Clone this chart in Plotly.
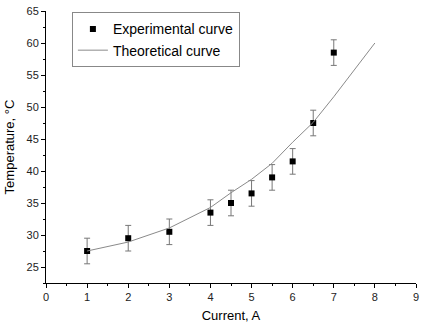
import plotly.graph_objects as go

current = [1, 2, 3, 4, 4.5, 5, 5.5, 6, 6.5, 7]
temperature = [27.5, 29.5, 30.5, 33.5, 35.0, 36.5, 39.0, 41.5, 47.5, 58.5]
temp_err = [2, 2, 2, 2, 2, 2, 2, 2, 2, 2]

theory_current = [1, 2, 3, 4, 4.5, 5, 5.5, 6, 6.5, 7, 8]
theory_temp = [27.5, 28.9, 31.1, 34.3, 36.6, 38.7, 41.2, 44.5, 47.6, 51.6, 60.0]

FONT = "Liberation Sans, Arial, sans-serif"

fig = go.Figure()
fig.add_trace(go.Scatter(
    x=current, y=temperature, mode="markers", name="Experimental curve",
    marker=dict(symbol="square", size=6, color="black"),
    error_y=dict(type="data", array=temp_err, visible=True, color="#777777",
                 thickness=1, width=3),
))
fig.add_trace(go.Scatter(
    x=theory_current, y=theory_temp, mode="lines", name="Theoretical curve",
    line=dict(color="#8a8a8a", width=1),
))

fig.update_layout(
    width=424, height=327,
    margin=dict(l=46, r=5, t=7, b=44),
    paper_bgcolor="white", plot_bgcolor="white",
    font=dict(family=FONT, size=11, color="#222222"),
    showlegend=True,
    legend=dict(x=0.07, y=0.995, xanchor="left", yanchor="top",
                bordercolor="#888888", borderwidth=1, bgcolor="white",
                font=dict(size=14, family=FONT, color="black"),
                tracegroupgap=0, itemwidth=30),
    xaxis=dict(range=[0, 9], dtick=1, showgrid=False, zeroline=False,
               showline=True, linecolor="black", linewidth=1,
               ticks="outside", ticklen=4, tickcolor="black",
               minor=dict(dtick=0.5, ticks="outside", ticklen=2, tickcolor="black"),
               title=dict(text="Current, A", font=dict(size=13, color="black"), standoff=8),
               tickfont=dict(size=11)),
    yaxis=dict(range=[22.5, 65], tick0=25, dtick=5, showgrid=False, zeroline=False,
               showline=True, linecolor="black", linewidth=1,
               ticks="outside", ticklen=4, tickcolor="black",
               minor=dict(dtick=2.5, ticks="outside", ticklen=2, tickcolor="black"),
               title=dict(text="Temperature, °C", font=dict(size=13, color="black"), standoff=8),
               tickfont=dict(size=11)),
)

fig.write_html("out.html")
